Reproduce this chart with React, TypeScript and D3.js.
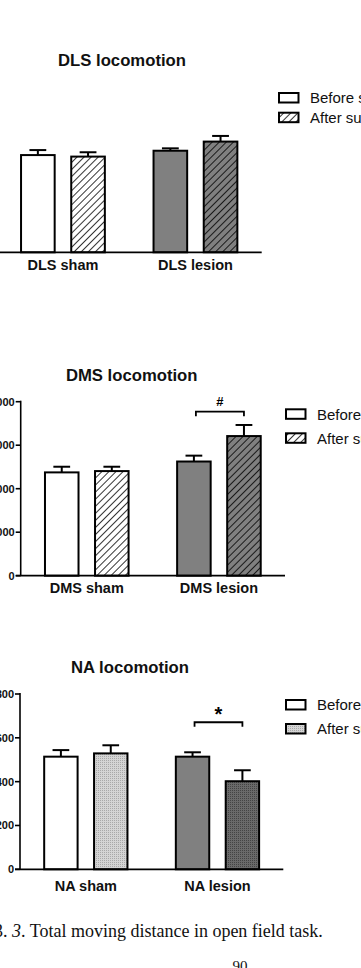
import React from "react";
import * as d3 from "d3";

// groups and series
const seriesKeys = ["before", "after"];
const legendLabels = ["Before surgery", "After surgery"];

const dlsGroups = ["DLS sham", "DLS lesion"];
const dlsMeans = [4470, 4400, 4670, 5090];
const dlsErrors = [230, 200, 110, 260];

const dmsGroups = ["DMS sham", "DMS lesion"];
const dmsMeans = [4750, 4810, 5250, 6420];
const dmsErrors = [260, 200, 270, 510];
const dmsTicks = [0, 2000, 4000, 6000, 8000];

const naGroups = ["NA sham", "NA lesion"];
const naMeans = [514, 529, 514, 402];
const naErrors = [30, 37, 20, 50];
const naTicks = [0, 200, 400, 600, 800];

const FONT = "'Liberation Sans', Arial, sans-serif";
const SERIF = "'Liberation Serif', 'Times New Roman', serif";

type Panel = {
  id: string;
  title: string;
  groups: string[];
  means: number[];
  errors: number[];
  ticks: number[];
  yMax: number;
  axisX: number;
  baseY: number;
  topY: number;
  axisLen: number;
  titleX: number;
  titleY: number;
  legendX: number;
  legendY: number;
  legendGap: number;
  labelY: number;
  fills: string[];
  legendFills: string[];
  sig?: { text: string; value: number; size: number; dy: number };
};

const panels: Panel[] = [
  {
    id: "dls", title: "DLS locomotion", groups: dlsGroups, means: dlsMeans, errors: dlsErrors,
    ticks: dmsTicks, yMax: 8000, axisX: -3.3, baseY: 252.3, topY: 78.3, axisLen: 265,
    titleX: 122, titleY: 60.7, legendX: 279, legendY: 93, legendGap: 19.7, labelY: 265,
    fills: ["#ffffff", "url(#hatchWhite)", "#808080", "url(#hatchGray)"],
    legendFills: ["#ffffff", "url(#hatchWhite)"],
  },
  {
    id: "dms", title: "DMS locomotion", groups: dmsGroups, means: dmsMeans, errors: dmsErrors,
    ticks: dmsTicks, yMax: 8000, axisX: 20.7, baseY: 575.7, topY: 401.7, axisLen: 264.3,
    titleX: 131.7, titleY: 375.7, legendX: 286, legendY: 409.3, legendGap: 24, labelY: 588.3,
    fills: ["#ffffff", "url(#hatchWhite)", "#808080", "url(#hatchGray)"],
    legendFills: ["#ffffff", "url(#hatchWhite)"],
    sig: { text: "#", value: 7540, size: 13, dy: -6 },
  },
  {
    id: "na", title: "NA locomotion", groups: naGroups, means: naMeans, errors: naErrors,
    ticks: naTicks, yMax: 800, axisX: 20, baseY: 869.3, topY: 694, axisLen: 263.3,
    titleX: 130, titleY: 667.7, legendX: 286, legendY: 700, legendGap: 24, labelY: 885.7,
    fills: ["#ffffff", "url(#dotLight)", "#808080", "url(#dotDark)"],
    legendFills: ["#ffffff", "url(#dotLight)"],
    sig: { text: "*", value: 671, size: 20, dy: -1 },
  },
];

function ChartPanel({ p }: { p: Panel }) {
  const x = d3.scaleBand<string>().domain(p.groups).range([p.axisX, p.axisX + p.axisLen]).padding(0);
  const inner = d3.scaleBand<string>().domain(seriesKeys).range([0, x.bandwidth()])
    .paddingInner(0.33).paddingOuter(0.485);
  const y = d3.scaleLinear().domain([0, p.yMax]).range([p.baseY, p.topY]);
  const bw = inner.bandwidth();

  const bars = p.groups.flatMap((g, gi) =>
    seriesKeys.map((k, ki) => {
      const i = gi * 2 + ki;
      return { g, k, i, x0: (x(g) as number) + (inner(k) as number), mean: p.means[i], err: p.errors[i] };
    })
  );

  let bracket = null;
  if (p.sig) {
    const g = p.groups[1];
    const xl = (x(g) as number) + (inner("before") as number) + bw / 2 + 2;
    const xr = (x(g) as number) + (inner("after") as number) + bw / 2;
    const yb = y(p.sig.value);
    bracket = (
      <g>
        <path d={`M${xl},${yb + 4.5}V${yb}H${xr}V${yb + 4.5}`} fill="none" stroke="#000" strokeWidth={1.8} />
        <text x={(xl + xr) / 2} y={yb + p.sig.dy} textAnchor="middle" fontFamily={FONT} fontWeight="bold"
          fontSize={p.sig.size}>{p.sig.text}</text>
      </g>
    );
  }

  return (
    <g>
      <text x={p.titleX} y={p.titleY} textAnchor="middle" dominantBaseline="central" fontFamily={FONT}
        fontWeight="bold" fontSize={16.7} fill="#111">{p.title}</text>

      {bars.map((b) => (
        <g key={b.i}>
          <line x1={b.x0 + bw / 2} x2={b.x0 + bw / 2} y1={y(b.mean)} y2={y(b.mean + b.err)} stroke="#000" strokeWidth={2} />
          <line x1={b.x0 + bw / 4} x2={b.x0 + (3 * bw) / 4} y1={y(b.mean + b.err)} y2={y(b.mean + b.err)} stroke="#000" strokeWidth={2} />
          <rect x={b.x0} y={y(b.mean)} width={bw} height={p.baseY - y(b.mean)} fill={p.fills[b.i]} stroke="#000" strokeWidth={2} />
        </g>
      ))}

      {/* y axis */}
      <line x1={p.axisX} x2={p.axisX} y1={p.topY - 1} y2={p.baseY} stroke="#000" strokeWidth={1.6} />
      {p.ticks.map((t) => (
        <g key={t}>
          <line x1={p.axisX - 5} x2={p.axisX} y1={y(t)} y2={y(t)} stroke="#000" strokeWidth={1.6} />
          <text x={p.axisX - 6} y={y(t)} textAnchor="end" dominantBaseline="central" fontFamily={FONT}
            fontWeight="bold" fontSize={11} fill="#111">{t}</text>
        </g>
      ))}
      {/* x axis */}
      <line x1={p.axisX - 5} x2={p.axisX + p.axisLen} y1={p.baseY} y2={p.baseY} stroke="#000" strokeWidth={1.8} />
      {p.groups.map((g) => (
        <text key={g} x={(x(g) as number) + x.bandwidth() / 2} y={p.labelY} textAnchor="middle"
          dominantBaseline="central" fontFamily={FONT} fontWeight="bold" fontSize={14.5} fill="#111">{g}</text>
      ))}

      {bracket}

      {legendLabels.map((l, i) => (
        <g key={l}>
          <rect x={p.legendX} y={p.legendY + i * p.legendGap} width={19.5} height={9.5}
            fill={p.legendFills[i]} stroke="#000" strokeWidth={2} />
          <text x={p.legendX + 31} y={p.legendY + i * p.legendGap + 4.8} dominantBaseline="central"
            fontFamily={FONT} fontSize={15} fill="#111">{l}</text>
        </g>
      ))}
    </g>
  );
}

export default function App() {
  return (
    <svg width={361} height={968} style={{ position: "absolute", left: 0, top: 0, background: "#fff" }}>
      <defs>
        <pattern id="hatchWhite" patternUnits="userSpaceOnUse" width={5} height={5} patternTransform="rotate(45)">
          <rect width={5} height={5} fill="#fff" />
          <line x1={0} y1={0} x2={0} y2={5} stroke="#000" strokeWidth={1.6} />
        </pattern>
        <pattern id="hatchGray" patternUnits="userSpaceOnUse" width={5} height={5} patternTransform="rotate(45)">
          <rect width={5} height={5} fill="#808080" />
          <line x1={0} y1={0} x2={0} y2={5} stroke="#000" strokeWidth={1.6} />
        </pattern>
        <pattern id="dotLight" patternUnits="userSpaceOnUse" width={2} height={2}>
          <rect width={2} height={2} fill="#d4d4d4" />
          <rect width={1} height={1} fill="#a8a8a8" />
        </pattern>
        <pattern id="dotDark" patternUnits="userSpaceOnUse" width={2} height={2}>
          <rect width={2} height={2} fill="#6a6a6a" />
          <rect width={1} height={1} fill="#444" />
        </pattern>
      </defs>
      {panels.map((p) => <ChartPanel key={p.id} p={p} />)}
      <text x={-6} y={937} fontFamily={SERIF} fontSize={18} fill="#111">
        3. <tspan fontStyle="italic">3</tspan>. Total moving distance in open field task.
      </text>
      <text x={240} y={971} textAnchor="middle" fontFamily={SERIF} fontSize={15} fill="#111">90</text>
    </svg>
  );
}
